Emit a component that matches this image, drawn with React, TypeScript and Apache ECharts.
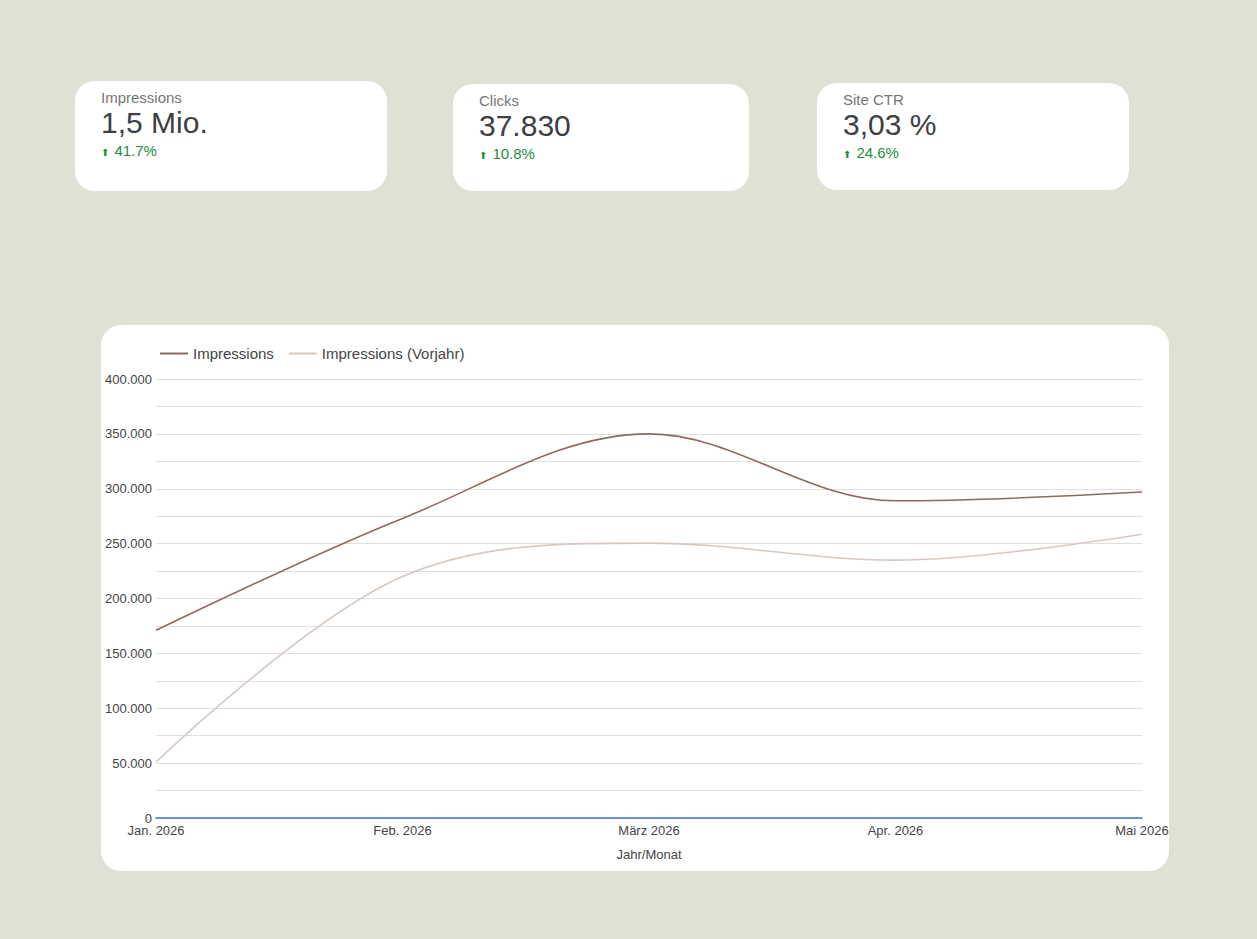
import React, { useEffect, useRef } from "react";
import * as echarts from "echarts";

const months = ["Jan. 2026", "Feb. 2026", "März 2026", "Apr. 2026", "Mai 2026"];
const impressions = [171000, 273000, 350000, 289000, 297000];
const impressionsPrev = [51000, 220000, 250500, 235000, 258500];
const seriesNames = ["Impressions", "Impressions (Vorjahr)"];

const kpiLabels = ["Impressions", "Clicks", "Site CTR"];
const kpiValues = ["1,5 Mio.", "37.830", "3,03 %"];
const kpiChanges = ["41.7%", "10.8%", "24.6%"];

const cards = [
  { left: 75, top: 81, width: 312, height: 110 },
  { left: 453, top: 84, width: 296, height: 107 },
  { left: 817, top: 83, width: 312, height: 107 },
];

const FONT = '"Liberation Sans", Arial, Helvetica, sans-serif';

function fmt(v: number) {
  return String(v).replace(/\B(?=(\d{3})+(?!\d))/g, ".");
}

function Chart() {
  const ref = useRef<HTMLDivElement>(null);
  useEffect(() => {
    const chart = echarts.init(ref.current!, undefined, { renderer: "svg" });
    chart.setOption({
      animation: false,
      textStyle: { fontFamily: FONT },
      legend: {
        left: 59,
        top: 21,
        padding: 0,
        icon: "rect",
        itemWidth: 28,
        itemHeight: 2,
        itemGap: 15,
        textStyle: { fontSize: 15, color: "#444", fontFamily: FONT },
        data: seriesNames,
      },
      grid: { left: 55, right: 27, top: 54, bottom: 53, containLabel: false, outerBoundsMode: "none" },
      xAxis: {
        type: "category",
        data: months,
        boundaryGap: false,
        name: "Jahr/Monat",
        nameLocation: "middle",
        nameGap: 30,
        nameTextStyle: { fontSize: 13, color: "#444", fontFamily: FONT },
        axisLine: { show: true, lineStyle: { color: "#3f73cf", width: 1.5 } },
        axisTick: { show: false },
        axisLabel: { fontSize: 13, color: "#444", margin: 6, fontFamily: FONT },
        splitLine: { show: false },
      },
      yAxis: {
        type: "value",
        min: 0,
        max: 400000,
        interval: 25000,
        axisLine: { show: false },
        axisTick: { show: false },
        axisLabel: {
          fontSize: 13,
          color: "#444",
          margin: 4,
          fontFamily: FONT,
          formatter: (v: number) => (v % 50000 === 0 ? fmt(v) : ""),
        },
        splitLine: { show: true, lineStyle: { color: "#e0e0e0", width: 1 } },
      },
      series: [
        {
          name: seriesNames[0],
          type: "line",
          data: impressions,
          smooth: 0.35,
          symbol: "none",
          lineStyle: { color: "#8c6b5d", width: 1.6 },
          itemStyle: { color: "#8c6b5d" },
          z: 3,
        },
        {
          name: seriesNames[1],
          type: "line",
          data: impressionsPrev,
          smooth: 0.35,
          symbol: "none",
          lineStyle: { color: "#d6c8c1", width: 1.6 },
          itemStyle: { color: "#d6c8c1" },
          z: 2,
        },
      ],
    });
    return () => chart.dispose();
  }, []);
  return <div ref={ref} style={{ width: "100%", height: "100%" }} />;
}

export default function App() {
  return (
    <div
      style={{
        position: "fixed",
        left: 0,
        top: 0,
        width: 1257,
        height: 939,
        background: "#e0e0d5",
        fontFamily: FONT,
        overflow: "hidden",
      }}
    >
      {cards.map((c, i) => (
        <div
          key={i}
          style={{
            position: "absolute",
            left: c.left,
            top: c.top,
            width: c.width,
            height: c.height,
            background: "#fff",
            borderRadius: 20,
          }}
        >
          <div style={{ position: "absolute", left: 26, top: 9, fontSize: 15, lineHeight: "16px", color: "#757575" }}>
            {kpiLabels[i]}
          </div>
          <div style={{ position: "absolute", left: 26, top: 26, fontSize: 30, lineHeight: "32px", color: "#3c4043" }}>
            {kpiValues[i]}
          </div>
          <div style={{ position: "absolute", left: 26, top: 62, fontSize: 15, lineHeight: "16px", color: "#1e8e3e" }}>
            <span style={{ fontSize: 10, fontFamily: "DejaVu Sans", marginRight: 5 }}>⬆</span>
            {kpiChanges[i]}
          </div>
        </div>
      ))}
      <div
        style={{
          position: "absolute",
          left: 101,
          top: 325,
          width: 1068,
          height: 546,
          background: "#fff",
          borderRadius: 20,
        }}
      >
        <Chart />
      </div>
    </div>
  );
}
